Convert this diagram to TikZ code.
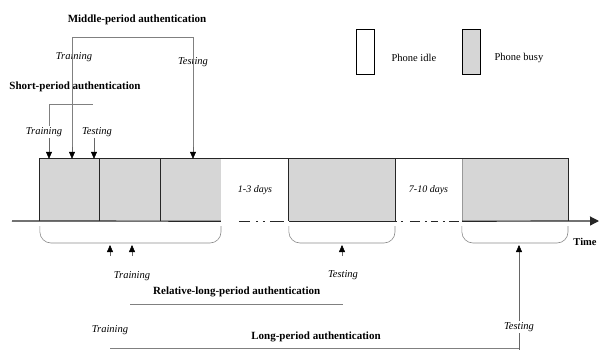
\documentclass[tikz,border=0pt]{standalone}
\usepackage{fontspec}
\setmainfont{Liberation Serif}
\usepackage{tikz}
\usetikzlibrary{positioning,arrows.meta}

\begin{document}
\begin{tikzpicture}[
  x=1pt, y=-1pt,
  busy/.style={rectangle, fill=black!16, minimum height=62pt, inner sep=0pt},
  idle/.style={rectangle, fill=white, minimum height=62pt, inner sep=0pt,
               font=\fontsize{10}{11}\selectfont\itshape},
  title/.style={font=\fontsize{11}{12}\selectfont\bfseries, inner sep=1pt},
  lbl/.style={font=\fontsize{10.5}{12}\selectfont\itshape, inner sep=1pt},
  txt/.style={font=\fontsize{10.5}{12}\selectfont, inner sep=1pt},
  edge/.style={line width=1pt, black!85},
  brace/.style={draw=black!45, line width=0.6pt, rounded corners=11pt},
  link/.style={draw=black!50, line width=0.6pt},
  arr/.style={-{Triangle[length=7pt,width=6pt,color=black]}, draw=black!60, line width=0.5pt},
  axis/.style={line width=1.2pt, black!85},
  gapA/.style={line width=1.2pt, black!85,
               dash pattern=on 0pt off 18pt on 11pt off 6pt on 2pt off 5pt on 2pt off 5pt on 14pt off 5pt},
  gapB/.style={line width=1.2pt, black!85,
               dash pattern=on 2pt off 4pt on 2pt off 7pt on 10pt off 5pt on 2pt off 4pt on 7pt off 5pt on 2pt off 4pt on 10pt off 3pt}
]
  \useasboundingbox (0,0) rectangle (600,350);

  % Timeline (busy and idle periods)
  \node[busy, minimum width=60pt] (b1) at (70,190) {};
  \node[busy, minimum width=61pt] (b2) at (130.5,190) {};
  \node[busy, minimum width=60pt] (b3) at (191,190) {};
  \node[idle, minimum width=68pt] (i1) at (255,190) {1-3 days};
  \node[busy, minimum width=106pt] (b4) at (342,190) {};
  \node[idle, minimum width=67pt] (i2) at (428.5,190) {7-10 days};
  \node[busy, minimum width=106pt] (b5) at (515,190) {};

  \draw[edge] (b1.south west) -- (b1.north west) -- (b5.north east) -- (b5.south east);
  \draw[edge] (b2.north west) -- (b2.south west);
  \draw[edge] (b3.north west) -- (b3.south west);
  \draw[edge] (b4.north west) -- (b4.south west);
  \draw[edge] (b4.north east) -- (b4.south east);
  \draw[line width=0.5pt, black!40] (b5.north west) -- (b5.south west);

  % Time axis
  \coordinate (ax0) at (12,221);
  \coordinate (ax1) at (599,221);
  \draw[axis] (ax0) -- (i1.south west);
  \draw[gapA] (i1.south west) -- (i1.south east);
  \draw[axis] (i1.south east) -- (i2.south west);
  \draw[gapB] (i2.south west) -- (i2.south east);
  \draw[axis, -{Triangle[length=9pt,width=9pt]}] (i2.south east) -- (ax1);
  \node[txt, font=\fontsize{10.5}{12}\selectfont\bfseries] (time) at (585,242) {Time};

  % Braces under the timeline
  \draw[brace] (b1.south west) ++(0,5) -- (40,243) -- (221,243) -- ++(0,-17);
  \draw[brace] (b4.south west) ++(0,5) -- (289,243) -- (395,243) -- ++(0,-17);
  \draw[brace] (b5.south west) ++(0,5) -- (462,243) -- (568,243) -- ++(0,-17);

  % Legend
  \node[rectangle, draw, line width=0.8pt, fill=white, minimum width=18pt, minimum height=45pt] (lgI) at (365,51.5) {};
  \node[txt, right=16pt of lgI, yshift=-6pt] (lgIt) {Phone idle};
  \node[busy, draw, line width=0.8pt, minimum width=18pt, minimum height=45pt] (lgB) at (471,51.5) {};
  \node[txt, right=13pt of lgB, yshift=-6pt] (lgBt) {Phone busy};

  % Middle-period authentication
  \node[title] (midT) at (137,20) {Middle-period authentication};
  \node[lbl] (trM) at (74,57) {Training};
  \node[lbl] (teM) at (193,62) {Testing};
  \coordinate (mL) at (72,37);
  \coordinate (mR) at (193,37);
  \draw[link] (mL |- b1.north) ++(0,-8) -- (mL) -- (mR) -- ++(0,113);
  \draw[arr] (mL |- b1.north) ++(0,-12) -- (mL |- b1.north);
  \draw[arr] (mR |- b3.north) ++(0,-12) -- (mR |- b3.north);

  % Short-period authentication
  \node[title] (shortT) at (75,87) {Short-period authentication};
  \node[lbl] (trS) at (44,132) {Training};
  \node[lbl] (teS) at (97,132) {Testing};
  \coordinate (sL) at (49,104);
  \coordinate (sR) at (93,104);
  \draw[link] (sL |- trS.north) -- (sL) -- (sR);
  \draw[arr] (sL |- trS.south) -- (sL |- b1.north);
  \draw[arr] (94,0 |- teS.south) -- (94,0 |- b1.north);

  % Relative-long-period authentication
  \node[lbl] (trR) at (132,276) {Training};
  \node[title, anchor=west] (relT) at (152,292) {Relative-long-period authentication};
  \node[lbl] (teR) at (343,275) {Testing};
  \draw[link] (130,304) -- (343,304);
  \draw[arr] (110,256) -- (110,245);
  \draw[arr] (132,256) -- (132,245);
  \draw[arr] (342,256) -- (342,245);

  % Long-period authentication
  \node[lbl] (trL) at (110,330) {Training};
  \node[title] (longT) at (316,337) {Long-period authentication};
  \draw[link] (110,348) -- (520,348);
  \draw[arr] (519,350) -- (519,245);
  \node[lbl, fill=white] (teL) at (519,327) {Testing};
\end{tikzpicture}
\end{document}
